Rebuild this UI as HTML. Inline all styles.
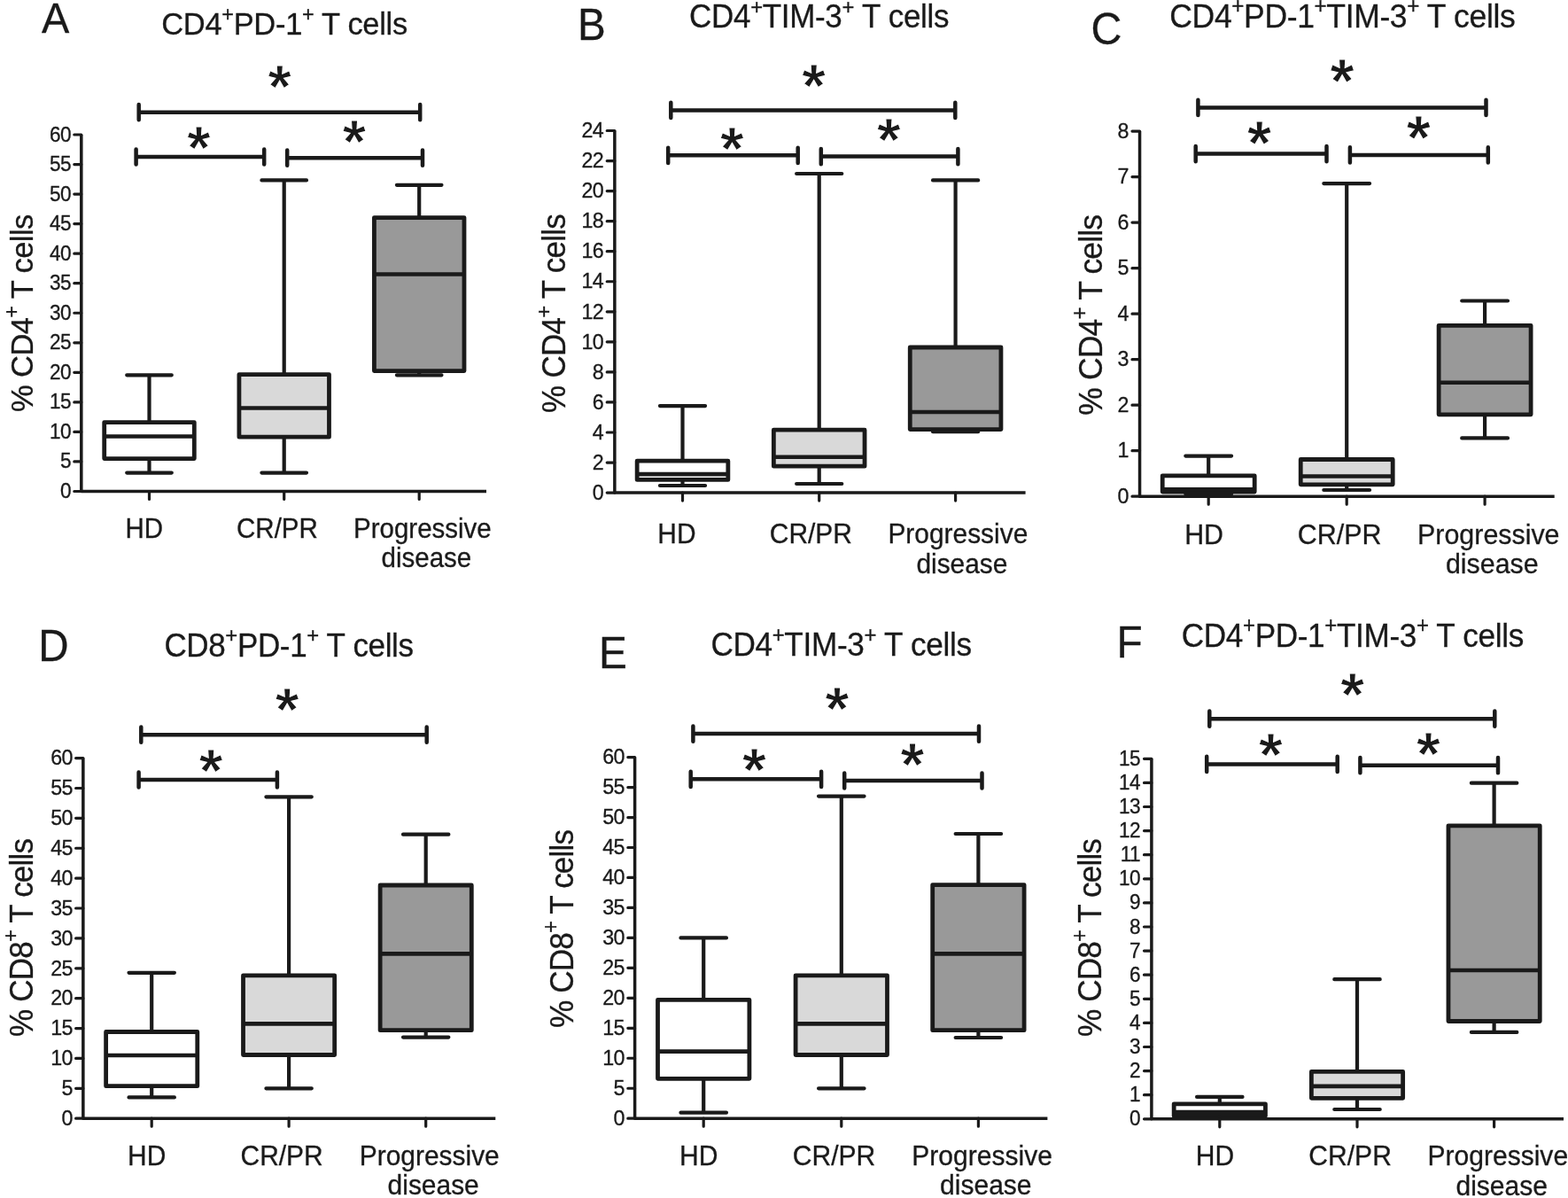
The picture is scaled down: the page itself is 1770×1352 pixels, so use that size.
<!DOCTYPE html>
<html lang="en"><head><meta charset="utf-8"><title>PD-1 and TIM-3 expression on T cells</title>
<style>html,body{margin:0;padding:0;background:#fff}svg{display:block}text{font-family:'Liberation Sans', Arial, sans-serif;fill:#1a1a1a;stroke:#1a1a1a;stroke-width:.3px}.w{fill:none;stroke:#1a1a1a;stroke-width:4.2;stroke-linecap:round}.b{stroke:#1a1a1a;stroke-width:4.8;stroke-linejoin:round}.m{fill:none;stroke:#1a1a1a;stroke-width:4.6}.a{fill:none;stroke:#1a1a1a;stroke-width:3.5;stroke-linejoin:round}.t{fill:none;stroke:#1a1a1a;stroke-width:3.2;stroke-linecap:round}.k{fill:none;stroke:#1a1a1a;stroke-width:4.5;stroke-linecap:round}.s{font-weight:bold;text-anchor:middle;stroke:#fff;stroke-width:1px}</style></head><body>
<svg width="1770" height="1352" viewBox="0 0 1770 1352">
<rect width="1770" height="1352" fill="#fff"/>
<g>
<text transform="translate(46.9 36.5) scale(1 1.04)" font-size="46.9">A</text>
<text transform="translate(182.2 39.4) scale(1 1.04)" font-size="34.5" textLength="278" lengthAdjust="spacing"><tspan>CD4</tspan><tspan font-size="23.5" dy="-14.9">+</tspan><tspan dy="14.9">PD-1</tspan><tspan font-size="23.5" dy="-14.9">+</tspan><tspan dy="14.9"> T cells</tspan></text>
<g transform="translate(36.7 353.4) rotate(-90) scale(1 1.04)">
<text x="-111.6" y="0" font-size="34.5" textLength="223.2" lengthAdjust="spacing"><tspan>% CD4</tspan><tspan font-size="23.5" dy="-15.4">+</tspan><tspan dy="15.4"> T cells</tspan></text></g>
<path d="M168.5 423.3V476.6M168.5 517.6V533.6M143.21 423.3H193.79M143.21 533.6H193.79" class="w"/>
<rect x="117.72" y="476.6" width="101.57" height="41" fill="#ffffff" class="b"/>
<path d="M117.72 492.5H219.28" class="m"/>
<path d="M320.7 203.4V422.6M320.7 493.2V533.6M295.41 203.4H345.99M295.41 533.6H345.99" class="w"/>
<rect x="269.92" y="422.6" width="101.57" height="70.6" fill="#d9d9d9" class="b"/>
<path d="M269.92 460.5H371.48" class="m"/>
<path d="M473.2 208.8V245.6M473.2 418.6V423.3M447.91 208.8H498.49M447.91 423.3H498.49" class="w"/>
<rect x="422.42" y="245.6" width="101.57" height="173" fill="#999999" class="b"/>
<path d="M422.42 309.5H523.98" class="m"/>
<path d="M91.8 152V554.5H549" class="a"/>
<path d="M83.8 554.5H91.8M83.8 520.96H91.8M83.8 487.42H91.8M83.8 453.88H91.8M83.8 420.33H91.8M83.8 386.79H91.8M83.8 353.25H91.8M83.8 319.71H91.8M83.8 286.17H91.8M83.8 252.62H91.8M83.8 219.08H91.8M83.8 185.54H91.8M83.8 152H91.8M168.5 554.5V563.5M320.7 554.5V563.5M473.2 554.5V563.5" class="t"/>
<g font-size="22.6" text-anchor="end" letter-spacing="-.62"><text transform="translate(79.9 562) scale(1 1.06)">0</text><text transform="translate(79.9 528.46) scale(1 1.06)">5</text><text transform="translate(79.9 494.92) scale(1 1.06)">10</text><text transform="translate(79.9 461.38) scale(1 1.06)">15</text><text transform="translate(79.9 427.83) scale(1 1.06)">20</text><text transform="translate(79.9 394.29) scale(1 1.06)">25</text><text transform="translate(79.9 360.75) scale(1 1.06)">30</text><text transform="translate(79.9 327.21) scale(1 1.06)">35</text><text transform="translate(79.9 293.67) scale(1 1.06)">40</text><text transform="translate(79.9 260.12) scale(1 1.06)">45</text><text transform="translate(79.9 226.58) scale(1 1.06)">50</text><text transform="translate(79.9 193.04) scale(1 1.06)">55</text><text transform="translate(79.9 159.5) scale(1 1.06)">60</text></g>
<path d="M156.7 126.7H474.2M156.7 118.1V135.3M474.2 118.1V135.3" class="k"/>
<text x="315.7" y="121.2" class="s" font-size="67.6">*</text>
<path d="M153.6 177H298.2M153.6 168.4V185.6M298.2 168.4V185.6" class="k"/>
<text x="224.4" y="189.5" class="s" font-size="67.6">*</text>
<path d="M324.2 178.2H477M324.2 169.6V186.8M477 169.6V186.8" class="k"/>
<text x="400" y="183.2" class="s" font-size="67.6">*</text>
<g font-size="29.5" text-anchor="middle"><text transform="translate(162.7 606.7) scale(1 1.04)">HD</text><text transform="translate(312.95 606.7) scale(1 1.04)">CR/PR</text><text transform="translate(476.9 606.7) scale(1 1.04)">Progressive</text><text transform="translate(481.4 640.1) scale(1 1.04)">disease</text></g>
</g>
<g>
<text transform="translate(652.1 45.4) scale(1 1.04)" font-size="47.54">B</text>
<text transform="translate(778.1 31.3) scale(1 1.04)" font-size="34.97" textLength="293.4" lengthAdjust="spacing"><tspan>CD4</tspan><tspan font-size="23.82" dy="-15.1">+</tspan><tspan dy="15.1">TIM-3</tspan><tspan font-size="23.82" dy="-15.1">+</tspan><tspan dy="15.1"> T cells</tspan></text>
<g transform="translate(638 353.55) rotate(-90) scale(1 1.04)">
<text x="-112.35" y="0" font-size="34.97" textLength="224.7" lengthAdjust="spacing"><tspan>% CD4</tspan><tspan font-size="23.82" dy="-15.61">+</tspan><tspan dy="15.61"> T cells</tspan></text></g>
<path d="M770.5 458.1V520.2M770.5 541.4V548M744.92 458.1H796.08M744.92 548H796.08" class="w"/>
<rect x="719.15" y="520.2" width="102.7" height="21.2" fill="#ffffff" class="b"/>
<path d="M719.15 535.1H821.85" class="m"/>
<path d="M924.7 196V485.2M924.7 526.2V546M899.12 196H950.28M899.12 546H950.28" class="w"/>
<rect x="873.35" y="485.2" width="102.7" height="41" fill="#d9d9d9" class="b"/>
<path d="M873.35 515.8H976.05" class="m"/>
<path d="M1078.6 203.4V392M1078.6 484.6V487.2M1053.02 203.4H1104.17M1053.02 487.2H1104.17" class="w"/>
<rect x="1027.25" y="392" width="102.7" height="92.6" fill="#999999" class="b"/>
<path d="M1027.25 465H1129.95" class="m"/>
<path d="M693.85 147.5V556.1H1157.6" class="a"/>
<path d="M685.2 556.1H693.85M685.2 522.05H693.85M685.2 488H693.85M685.2 453.95H693.85M685.2 419.9H693.85M685.2 385.85H693.85M685.2 351.8H693.85M685.2 317.75H693.85M685.2 283.7H693.85M685.2 249.65H693.85M685.2 215.6H693.85M685.2 181.55H693.85M685.2 147.5H693.85M770.5 556.1V565.1M924.7 556.1V565.1M1078.6 556.1V565.1" class="t"/>
<g font-size="23.28" text-anchor="end" letter-spacing="-.62"><text transform="translate(681.05 563.83) scale(1 1.06)">0</text><text transform="translate(681.05 529.78) scale(1 1.06)">2</text><text transform="translate(681.05 495.73) scale(1 1.06)">4</text><text transform="translate(681.05 461.68) scale(1 1.06)">6</text><text transform="translate(681.05 427.62) scale(1 1.06)">8</text><text transform="translate(681.05 393.58) scale(1 1.06)">10</text><text transform="translate(681.05 359.52) scale(1 1.06)">12</text><text transform="translate(681.05 325.48) scale(1 1.06)">14</text><text transform="translate(681.05 291.43) scale(1 1.06)">16</text><text transform="translate(681.05 257.38) scale(1 1.06)">18</text><text transform="translate(681.05 223.33) scale(1 1.06)">20</text><text transform="translate(681.05 189.28) scale(1 1.06)">22</text><text transform="translate(681.05 155.22) scale(1 1.06)">24</text></g>
<path d="M757.3 124.4H1078.3M757.3 115.8V133M1078.3 115.8V133" class="k"/>
<text x="918.6" y="120.2" class="s" font-size="68.52">*</text>
<path d="M754.2 175.3H900.7M754.2 166.7V183.9M900.7 166.7V183.9" class="k"/>
<text x="826.4" y="190.9" class="s" font-size="68.52">*</text>
<path d="M926.8 176.6H1081.4M926.8 168V185.2M1081.4 168V185.2" class="k"/>
<text x="1003.4" y="181.2" class="s" font-size="68.52">*</text>
<g font-size="29.9" text-anchor="middle"><text transform="translate(763.9 613.1) scale(1 1.04)">HD</text><text transform="translate(915.35 613.1) scale(1 1.04)">CR/PR</text><text transform="translate(1081.35 613.1) scale(1 1.04)">Progressive</text><text transform="translate(1085.9 647) scale(1 1.04)">disease</text></g>
</g>
<g>
<text transform="translate(1231.5 50.1) scale(1 1.04)" font-size="48.31">C</text>
<text transform="translate(1320.3 31.2) scale(1 1.04)" font-size="35.54" textLength="390.4" lengthAdjust="spacing"><tspan>CD4</tspan><tspan font-size="24.21" dy="-15.35">+</tspan><tspan dy="15.35">PD-1</tspan><tspan font-size="24.21" dy="-15.35">+</tspan><tspan dy="15.35">TIM-3</tspan><tspan font-size="24.21" dy="-15.35">+</tspan><tspan dy="15.35"> T cells</tspan></text>
<g transform="translate(1243.6 355.35) rotate(-90) scale(1 1.04)">
<text x="-113.5" y="0" font-size="35.54" textLength="227" lengthAdjust="spacing"><tspan>% CD4</tspan><tspan font-size="24.21" dy="-15.86">+</tspan><tspan dy="15.86"> T cells</tspan></text></g>
<path d="M1364.2 514.6V536.8M1364.2 555.1V557.5M1338.31 514.6H1390.09M1338.31 557.5H1390.09" class="w"/>
<rect x="1312.22" y="536.8" width="103.97" height="18.3" fill="#ffffff" class="b"/>
<path d="M1312.22 552.4H1416.18" class="m"/>
<path d="M1520.2 207.1V518.5M1520.2 546.8V553M1494.31 207.1H1546.09M1494.31 553H1546.09" class="w"/>
<rect x="1468.22" y="518.5" width="103.97" height="28.3" fill="#d9d9d9" class="b"/>
<path d="M1468.22 537.5H1572.18" class="m"/>
<path d="M1676.1 339.5V367.3M1676.1 467.8V494.4M1650.21 339.5H1701.99M1650.21 494.4H1701.99" class="w"/>
<rect x="1624.12" y="367.3" width="103.97" height="100.5" fill="#999999" class="b"/>
<path d="M1624.12 431.7H1728.08" class="m"/>
<path d="M1286.55 148.1V560.2H1754.7" class="a"/>
<path d="M1278 560.2H1286.55M1278 508.69H1286.55M1278 457.18H1286.55M1278 405.66H1286.55M1278 354.15H1286.55M1278 302.64H1286.55M1278 251.12H1286.55M1278 199.61H1286.55M1278 148.1H1286.55M1364.2 560.2V569.2M1520.2 560.2V569.2M1676.1 560.2V569.2" class="t"/>
<g font-size="23.28" text-anchor="end" letter-spacing="-.62"><text transform="translate(1273.85 567.93) scale(1 1.06)">0</text><text transform="translate(1273.85 516.41) scale(1 1.06)">1</text><text transform="translate(1273.85 464.9) scale(1 1.06)">2</text><text transform="translate(1273.85 413.39) scale(1 1.06)">3</text><text transform="translate(1273.85 361.88) scale(1 1.06)">4</text><text transform="translate(1273.85 310.36) scale(1 1.06)">5</text><text transform="translate(1273.85 258.85) scale(1 1.06)">6</text><text transform="translate(1273.85 207.34) scale(1 1.06)">7</text><text transform="translate(1273.85 155.83) scale(1 1.06)">8</text></g>
<path d="M1352.4 121.4H1677.5M1352.4 112.8V130M1677.5 112.8V130" class="k"/>
<text x="1515" y="115.7" class="s" font-size="69.63">*</text>
<path d="M1349.7 173.6H1497.5M1349.7 165V182.2M1497.5 165V182.2" class="k"/>
<text x="1421.5" y="185.7" class="s" font-size="69.63">*</text>
<path d="M1523.9 174.9H1679.8M1523.9 166.3V183.5M1679.8 166.3V183.5" class="k"/>
<text x="1601.2" y="179.5" class="s" font-size="69.63">*</text>
<g font-size="30.39" text-anchor="middle"><text transform="translate(1359.1 613.8) scale(1 1.04)">HD</text><text transform="translate(1512.1 613.8) scale(1 1.04)">CR/PR</text><text transform="translate(1680.3 613.8) scale(1 1.04)">Progressive</text><text transform="translate(1684.3 647.1) scale(1 1.04)">disease</text></g>
</g>
<g>
<text transform="translate(43.2 745.5) scale(1 1.04)" font-size="47.6">D</text>
<text transform="translate(185.4 741) scale(1 1.04)" font-size="35.02" textLength="281.6" lengthAdjust="spacing"><tspan>CD8</tspan><tspan font-size="23.85" dy="-15.12">+</tspan><tspan dy="15.12">PD-1</tspan><tspan font-size="23.85" dy="-15.12">+</tspan><tspan dy="15.12"> T cells</tspan></text>
<g transform="translate(36.7 1058) rotate(-90) scale(1 1.04)">
<text x="-111.9" y="0" font-size="35.02" textLength="223.8" lengthAdjust="spacing"><tspan>% CD8</tspan><tspan font-size="23.85" dy="-15.63">+</tspan><tspan dy="15.63"> T cells</tspan></text></g>
<path d="M171.2 1097.8V1164.5M171.2 1225.7V1238.4M145.51 1097.8H196.89M145.51 1238.4H196.89" class="w"/>
<rect x="119.62" y="1164.5" width="103.17" height="61.2" fill="#ffffff" class="b"/>
<path d="M119.62 1191H222.78" class="m"/>
<path d="M326.1 899.3V1100.8M326.1 1190.5V1228.3M300.41 899.3H351.79M300.41 1228.3H351.79" class="w"/>
<rect x="274.52" y="1100.8" width="103.17" height="89.7" fill="#d9d9d9" class="b"/>
<path d="M274.52 1155.4H377.68" class="m"/>
<path d="M480.7 941.7V999M480.7 1162.7V1170.6M455.01 941.7H506.39M455.01 1170.6H506.39" class="w"/>
<rect x="429.12" y="999" width="103.17" height="163.7" fill="#999999" class="b"/>
<path d="M429.12 1076.4H532.28" class="m"/>
<path d="M93.85 855.6V1262.2H559.3" class="a"/>
<path d="M85.6 1262.2H93.85M85.6 1228.32H93.85M85.6 1194.43H93.85M85.6 1160.55H93.85M85.6 1126.67H93.85M85.6 1092.78H93.85M85.6 1058.9H93.85M85.6 1025.02H93.85M85.6 991.13H93.85M85.6 957.25H93.85M85.6 923.37H93.85M85.6 889.48H93.85M85.6 855.6H93.85M171.2 1262.2V1271.2M326.1 1262.2V1271.2M480.7 1262.2V1271.2" class="t"/>
<g font-size="23.28" text-anchor="end" letter-spacing="-.62"><text transform="translate(81.8 1269.92) scale(1 1.06)">0</text><text transform="translate(81.8 1236.04) scale(1 1.06)">5</text><text transform="translate(81.8 1202.16) scale(1 1.06)">10</text><text transform="translate(81.8 1168.27) scale(1 1.06)">15</text><text transform="translate(81.8 1134.39) scale(1 1.06)">20</text><text transform="translate(81.8 1100.51) scale(1 1.06)">25</text><text transform="translate(81.8 1066.62) scale(1 1.06)">30</text><text transform="translate(81.8 1032.74) scale(1 1.06)">35</text><text transform="translate(81.8 998.86) scale(1 1.06)">40</text><text transform="translate(81.8 964.98) scale(1 1.06)">45</text><text transform="translate(81.8 931.09) scale(1 1.06)">50</text><text transform="translate(81.8 897.21) scale(1 1.06)">55</text><text transform="translate(81.8 863.32) scale(1 1.06)">60</text></g>
<path d="M159.3 829.2H481.7M159.3 820.6V837.8M481.7 820.6V837.8" class="k"/>
<text x="324" y="824.2" class="s" font-size="68.61">*</text>
<path d="M156.6 880H312.9M156.6 871.4V888.6M312.9 871.4V888.6" class="k"/>
<text x="238" y="893.2" class="s" font-size="68.61">*</text>
<g font-size="29.94" text-anchor="middle"><text transform="translate(165.7 1314.8) scale(1 1.04)">HD</text><text transform="translate(318.1 1314.8) scale(1 1.04)">CR/PR</text><text transform="translate(484.75 1314.8) scale(1 1.04)">Progressive</text><text transform="translate(489.2 1347.9) scale(1 1.04)">disease</text></g>
</g>
<g>
<text transform="translate(675.9 753.8) scale(1 1.04)" font-size="47.77">E</text>
<text transform="translate(802.4 740.3) scale(1 1.04)" font-size="35.14" textLength="294.6" lengthAdjust="spacing"><tspan>CD4</tspan><tspan font-size="23.94" dy="-15.18">+</tspan><tspan dy="15.18">TIM-3</tspan><tspan font-size="23.94" dy="-15.18">+</tspan><tspan dy="15.18"> T cells</tspan></text>
<g transform="translate(646.5 1048) rotate(-90) scale(1 1.04)">
<text x="-112" y="0" font-size="35.14" textLength="224" lengthAdjust="spacing"><tspan>% CD8</tspan><tspan font-size="23.94" dy="-15.69">+</tspan><tspan dy="15.69"> T cells</tspan></text></g>
<path d="M794.2 1058.4V1128.3M794.2 1217.3V1255.7M768.45 1058.4H819.95M768.45 1255.7H819.95" class="w"/>
<rect x="742.5" y="1128.3" width="103.4" height="89" fill="#ffffff" class="b"/>
<path d="M742.5 1186.6H845.9" class="m"/>
<path d="M949.8 898.6V1100.8M949.8 1190.5V1228.3M924.05 898.6H975.55M924.05 1228.3H975.55" class="w"/>
<rect x="898.1" y="1100.8" width="103.4" height="89.7" fill="#d9d9d9" class="b"/>
<path d="M898.1 1155.4H1001.5" class="m"/>
<path d="M1104.4 941V998.6M1104.4 1162.7V1171M1078.65 941H1130.15M1078.65 1171H1130.15" class="w"/>
<rect x="1052.7" y="998.6" width="103.4" height="164.1" fill="#999999" class="b"/>
<path d="M1052.7 1076.4H1156.1" class="m"/>
<path d="M716.6 854.6V1262.2H1182.4" class="a"/>
<path d="M708.8 1262.2H716.6M708.8 1228.23H716.6M708.8 1194.27H716.6M708.8 1160.3H716.6M708.8 1126.33H716.6M708.8 1092.37H716.6M708.8 1058.4H716.6M708.8 1024.43H716.6M708.8 990.47H716.6M708.8 956.5H716.6M708.8 922.53H716.6M708.8 888.57H716.6M708.8 854.6H716.6M794.2 1262.2V1271.2M949.8 1262.2V1271.2M1104.4 1262.2V1271.2" class="t"/>
<g font-size="23.28" text-anchor="end" letter-spacing="-.62"><text transform="translate(704.9 1269.92) scale(1 1.06)">0</text><text transform="translate(704.9 1235.96) scale(1 1.06)">5</text><text transform="translate(704.9 1201.99) scale(1 1.06)">10</text><text transform="translate(704.9 1168.02) scale(1 1.06)">15</text><text transform="translate(704.9 1134.06) scale(1 1.06)">20</text><text transform="translate(704.9 1100.09) scale(1 1.06)">25</text><text transform="translate(704.9 1066.12) scale(1 1.06)">30</text><text transform="translate(704.9 1032.16) scale(1 1.06)">35</text><text transform="translate(704.9 998.19) scale(1 1.06)">40</text><text transform="translate(704.9 964.23) scale(1 1.06)">45</text><text transform="translate(704.9 930.26) scale(1 1.06)">50</text><text transform="translate(704.9 896.29) scale(1 1.06)">55</text><text transform="translate(704.9 862.32) scale(1 1.06)">60</text></g>
<path d="M782.4 828.1H1105M782.4 819.5V836.7M1105 819.5V836.7" class="k"/>
<text x="945" y="823" class="s" font-size="68.86">*</text>
<path d="M779.7 879.3H927.1M779.7 870.7V887.9M927.1 870.7V887.9" class="k"/>
<text x="851.5" y="892.4" class="s" font-size="68.86">*</text>
<path d="M953.2 881H1108.5M953.2 872.4V889.6M1108.5 872.4V889.6" class="k"/>
<text x="1029.8" y="886.4" class="s" font-size="68.86">*</text>
<g font-size="30.05" text-anchor="middle"><text transform="translate(788.8 1315.4) scale(1 1.04)">HD</text><text transform="translate(941.5 1315.4) scale(1 1.04)">CR/PR</text><text transform="translate(1108.6 1315.4) scale(1 1.04)">Progressive</text><text transform="translate(1112.8 1347.9) scale(1 1.04)">disease</text></g>
</g>
<g>
<text transform="translate(1260.5 741.6) scale(1 1.04)" font-size="47.77">F</text>
<text transform="translate(1333.8 730.2) scale(1 1.04)" font-size="35.14" textLength="386.4" lengthAdjust="spacing"><tspan>CD4</tspan><tspan font-size="23.94" dy="-15.18">+</tspan><tspan dy="15.18">PD-1</tspan><tspan font-size="23.94" dy="-15.18">+</tspan><tspan dy="15.18">TIM-3</tspan><tspan font-size="23.94" dy="-15.18">+</tspan><tspan dy="15.18"> T cells</tspan></text>
<g transform="translate(1242.9 1058) rotate(-90) scale(1 1.04)">
<text x="-111.9" y="0" font-size="35.14" textLength="223.8" lengthAdjust="spacing"><tspan>% CD8</tspan><tspan font-size="23.94" dy="-15.69">+</tspan><tspan dy="15.69"> T cells</tspan></text></g>
<path d="M1376.8 1237.9V1245.8M1376.8 1259.6V1261M1351.08 1237.9H1402.52M1351.08 1261H1402.52" class="w"/>
<rect x="1325.17" y="1245.8" width="103.27" height="13.8" fill="#ffffff" class="b"/>
<path d="M1325.17 1255H1428.43" class="m"/>
<rect x="1325.17" y="1255" width="103.27" height="4.6" fill="#1a1a1a"/>
<path d="M1532 1105.2V1209.3M1532 1239.3V1252M1506.28 1105.2H1557.72M1506.28 1252H1557.72" class="w"/>
<rect x="1480.37" y="1209.3" width="103.27" height="30" fill="#d9d9d9" class="b"/>
<path d="M1480.37 1225.9H1583.63" class="m"/>
<path d="M1686.6 883.7V931.8M1686.6 1152.5V1164.9M1660.88 883.7H1712.32M1660.88 1164.9H1712.32" class="w"/>
<rect x="1634.97" y="931.8" width="103.27" height="220.7" fill="#999999" class="b"/>
<path d="M1634.97 1095H1738.23" class="m"/>
<path d="M1299.9 856.3V1262.8H1765" class="a"/>
<path d="M1291.5 1262.8H1299.9M1291.5 1235.7H1299.9M1291.5 1208.6H1299.9M1291.5 1181.5H1299.9M1291.5 1154.4H1299.9M1291.5 1127.3H1299.9M1291.5 1100.2H1299.9M1291.5 1073.1H1299.9M1291.5 1046H1299.9M1291.5 1018.9H1299.9M1291.5 991.8H1299.9M1291.5 964.7H1299.9M1291.5 937.6H1299.9M1291.5 910.5H1299.9M1291.5 883.4H1299.9M1291.5 856.3H1299.9M1376.8 1262.8V1271.8M1532 1262.8V1271.8M1686.6 1262.8V1271.8" class="t"/>
<g font-size="22.6" text-anchor="end" letter-spacing="-.62"><text transform="translate(1287 1270.3) scale(1 1.06)">0</text><text transform="translate(1287 1243.2) scale(1 1.06)">1</text><text transform="translate(1287 1216.1) scale(1 1.06)">2</text><text transform="translate(1287 1189) scale(1 1.06)">3</text><text transform="translate(1287 1161.9) scale(1 1.06)">4</text><text transform="translate(1287 1134.8) scale(1 1.06)">5</text><text transform="translate(1287 1107.7) scale(1 1.06)">6</text><text transform="translate(1287 1080.6) scale(1 1.06)">7</text><text transform="translate(1287 1053.5) scale(1 1.06)">8</text><text transform="translate(1287 1026.4) scale(1 1.06)">9</text><text transform="translate(1287 999.3) scale(1 1.06)">10</text><text transform="translate(1287 972.2) scale(1 1.06)">11</text><text transform="translate(1287 945.1) scale(1 1.06)">12</text><text transform="translate(1287 918) scale(1 1.06)">13</text><text transform="translate(1287 890.9) scale(1 1.06)">14</text><text transform="translate(1287 863.8) scale(1 1.06)">15</text></g>
<path d="M1365.3 811.2H1687.3M1365.3 802.6V819.8M1687.3 802.6V819.8" class="k"/>
<text x="1526.6" y="806.7" class="s" font-size="68.86">*</text>
<path d="M1362.2 862.4H1509.7M1362.2 853.8V871M1509.7 853.8V871" class="k"/>
<text x="1434.4" y="875.4" class="s" font-size="68.86">*</text>
<path d="M1535.4 863.7H1691M1535.4 855.1V872.3M1691 855.1V872.3" class="k"/>
<text x="1612.4" y="873.7" class="s" font-size="68.86">*</text>
<g font-size="30.05" text-anchor="middle"><text transform="translate(1371.5 1315.4) scale(1 1.04)">HD</text><text transform="translate(1524.1 1315.4) scale(1 1.04)">CR/PR</text><text transform="translate(1690.8 1315.4) scale(1 1.04)">Progressive</text><text transform="translate(1695.2 1348.7) scale(1 1.04)">disease</text></g>
</g>
</svg></body></html>
